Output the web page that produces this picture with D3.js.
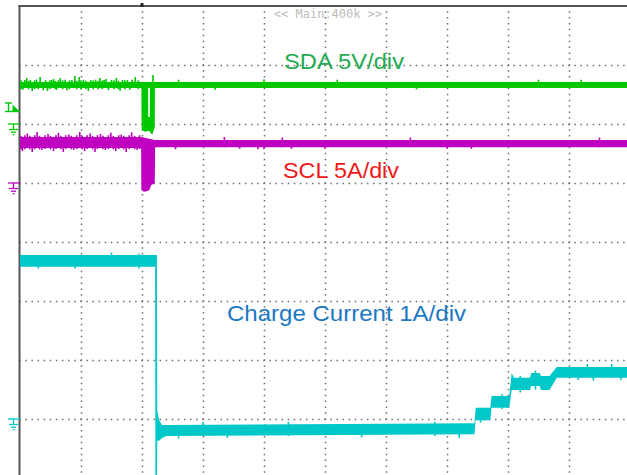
<!DOCTYPE html>
<html>
<head>
<meta charset="utf8">
<title>SDA / SCL / charge current</title>
<style>
body { margin:0; background:white; }
svg { display:block; }
</style>
<script src="https://d3js.org/d3.v7.min.js"></script>
</head>
<body>
<div id="chart"></div>
<script>
var width = 627;
var height = 475;

// scope screen divisions
var timeDivs = [0, 1, 2, 3, 4, 5, 6, 7, 8, 9, 10];
var levelDivs = [-4, -3, -2, -1, 0, 1, 2, 3, 4];

// channels: ground offset (div) and units per div
var chNames = ["SDA", "SCL", "Charge Current"];
var chGround = [2, 1, -3];
var chPerDiv = [5, 5, 1];
var chLabels = ["SDA 5V/div", "SCL 5A/div", "Charge Current 1A/div"];
var timebaseLabel = "<< Main:400k >>";
var triggerTime = 2;

// traces as envelopes: [time (div), low, high]
var sdaTrace = [[0, 3.05, 3.56], [10, 3.05, 3.56]];
var sdaDip = [[1.99, 3.05, 3.05], [1.995, -0.5, 3.05], [2.05, -0.65, 3.05], [2.1, -0.6, 3.05],
              [2.102, -0.6, 0.6], [2.128, -0.6, 0.6], [2.13, -0.7, 3.05], [2.17, -0.9, 3.05],
              [2.2, -0.4, 3.05], [2.21, -0.3, 3.05], [2.212, 3.05, 3.05]];
var sdaSpikes = [[0.02, 2.95, 3.7], [0.05, 2.9, 3.56], [0.08, 3.05, 3.72], [0.11, 3.05, 3.9], [0.14, 2.95, 3.66],
                 [0.17, 3.05, 3.74], [0.2, 2.8, 3.56], [0.24, 2.95, 3.7], [0.27, 3.05, 3.76], [0.3, 2.95, 3.56],
                 [0.33, 3.05, 3.98], [0.38, 2.85, 3.56], [0.42, 3.05, 3.72], [0.45, 2.8, 3.56], [0.49, 2.95, 3.7],
                 [0.52, 3.05, 3.74], [0.55, 3.05, 3.81], [0.58, 2.95, 3.66], [0.6, 2.9, 3.56], [0.63, 3.05, 3.72],
                 [0.66, 3.05, 3.9], [0.7, 2.95, 3.7], [0.74, 3.05, 3.76], [0.77, 2.85, 3.56], [0.81, 2.95, 3.7],
                 [0.85, 3.05, 3.72], [0.9, 3.05, 4.07], [0.93, 2.95, 3.66], [0.97, 3.05, 3.98], [1.0, 2.92, 3.7],
                 [1.04, 3.05, 3.74], [1.08, 2.95, 3.66], [1.12, 2.8, 3.56], [1.16, 3.05, 3.72], [1.2, 2.95, 3.7],
                 [1.24, 3.05, 3.76], [1.28, 2.92, 3.66], [1.31, 3.05, 3.9], [1.35, 2.95, 3.7], [1.38, 3.05, 3.72],
                 [1.41, 3.05, 3.81], [1.45, 2.88, 3.56], [1.5, 3.05, 3.74], [1.54, 2.95, 3.7], [1.58, 3.05, 3.9],
                 [1.61, 2.95, 3.66], [1.64, 2.8, 3.56], [1.68, 3.05, 3.74], [1.72, 2.95, 3.7], [1.76, 3.05, 3.72],
                 [1.8, 2.9, 3.56], [1.84, 3.05, 3.76], [1.89, 3.05, 3.98], [1.94, 2.95, 3.7],
                 [2.18, 3.05, 4.15], [2.6, 3.05, 3.75], [3.2, 2.9, 3.56], [4.0, 3.05, 3.8], [5.2, 3.05, 3.75],
                 [6.5, 2.95, 3.56], [8.5, 3.05, 3.75], [9.2, 3.05, 3.75]];

var sclTrace = [[0, 2.97, 3.9], [1.99, 2.97, 3.9], [2.21, 3.03, 3.64], [10, 3.03, 3.64]];
var sclDip = [[1.985, 3.05, 3.05], [1.99, -0.6, 3.05], [2.03, -0.75, 3.05], [2.08, -0.7, 3.05],
              [2.12, -0.6, 3.05], [2.15, -0.2, 3.05], [2.21, 0.0, 3.05], [2.215, 3.05, 3.05]];
var sclSpikes = [[0.02, 2.85, 4.0], [0.04, 2.7, 3.9], [0.08, 2.85, 4.05], [0.12, 2.97, 4.2], [0.16, 2.85, 4.0],
                 [0.2, 2.63, 3.9], [0.24, 2.85, 4.05], [0.28, 2.97, 4.32], [0.32, 2.85, 4.0], [0.36, 2.8, 3.9],
                 [0.41, 2.88, 4.05], [0.46, 2.97, 4.15], [0.5, 2.85, 4.0], [0.55, 2.7, 3.9], [0.59, 2.88, 4.05],
                 [0.63, 2.97, 4.25], [0.67, 2.85, 4.0], [0.71, 2.63, 3.9], [0.75, 2.88, 4.05], [0.8, 2.97, 4.1],
                 [0.84, 2.85, 4.0], [0.88, 2.8, 3.9], [0.93, 2.88, 4.05], [0.98, 2.97, 4.32], [1.02, 2.85, 4.0],
                 [1.06, 2.7, 3.9], [1.1, 2.88, 4.05], [1.15, 2.97, 4.2], [1.19, 2.85, 4.0], [1.23, 2.63, 3.9],
                 [1.27, 2.88, 4.05], [1.32, 2.97, 4.15], [1.36, 2.85, 4.0], [1.4, 2.8, 3.9], [1.45, 2.88, 4.05],
                 [1.49, 2.97, 4.25], [1.53, 2.85, 4.0], [1.57, 2.7, 3.9], [1.62, 2.88, 4.05], [1.66, 2.97, 4.1],
                 [1.7, 2.85, 4.0], [1.74, 2.63, 3.9], [1.79, 2.88, 4.05], [1.83, 2.97, 4.3], [1.88, 2.85, 4.0],
                 [1.92, 2.8, 3.9], [1.96, 2.88, 4.05],
                 [2.55, 2.85, 3.64], [3.35, 3.03, 3.9], [3.6, 2.9, 3.64], [3.9, 2.85, 3.64], [4.0, 2.85, 3.64],
                 [4.3, 3.03, 3.85], [4.45, 2.9, 3.64], [5.0, 2.9, 3.64], [6.4, 3.03, 3.85], [7.0, 2.9, 3.64],
                 [7.4, 2.9, 3.64], [9.5, 3.03, 3.85]];

var currentTrace = [[0, 2.58, 2.78], [2.215, 2.58, 2.78], [2.22, -1.2, 2.78], [2.245, -1.2, 2.78],
                    [2.25, -0.37, 0.14], [2.28, -0.37, -0.02], [2.33, -0.32, -0.1], [2.4, -0.29, -0.1],
                    [7.45, -0.26, -0.07], [7.47, -0.02, 0.19], [7.71, -0.02, 0.19], [7.73, 0.19, 0.39],
                    [8.02, 0.19, 0.39], [8.06, 0.49, 0.78], [8.1, 0.49, 0.7], [8.36, 0.49, 0.7],
                    [8.38, 0.56, 0.78], [8.52, 0.56, 0.78], [8.54, 0.49, 0.73], [8.68, 0.49, 0.73],
                    [8.8, 0.7, 0.88], [10, 0.7, 0.88]];
var currentSpikes = [[0.3, 2.55, 2.78], [0.9, 2.55, 2.78], [1.5, 2.58, 2.82], [1.95, 2.55, 2.8],
                     [2.6, -0.33, -0.1], [3.0, -0.29, -0.05], [3.4, -0.32, -0.1], [4.4, -0.29, -0.05],
                     [5.6, -0.31, -0.1], [6.8, -0.29, -0.05], [7.2, -0.32, -0.1], [7.55, -0.06, 0.19],
                     [7.9, 0.17, 0.42], [8.2, 0.45, 0.73], [8.45, 0.5, 0.82], [9.15, 0.66, 0.88],
                     [9.3, 0.7, 0.93], [9.4, 0.65, 0.88], [9.7, 0.7, 0.93], [9.85, 0.66, 0.88]];

var traceColors = ["#00c800", "#c000c0", "#00c8c8"];
var labelColors = ["#1eac50", "#f01818", "#1b78c2"];

var x = d3.scaleLinear().domain([0, 10]).range([20, 630]);
var y = d3.scaleLinear().domain([4, -4]).range([6, 478]);

// channel value -> screen y
function chY(ch, v) { return y(chGround[ch] + v / chPerDiv[ch]); }

var svg = d3.select("#chart").append("svg")
    .attr("width", width)
    .attr("height", height);

svg.append("rect").attr("width", width).attr("height", height).attr("fill", "white");

// dotted grid
svg.selectAll("line.hgrid")
  .data(levelDivs.filter(function(d){ return d < 4; }))
  .enter().append("line")
    .attr("class", "hgrid")
    .attr("x1", x(0) - 0.75).attr("x2", x(10))
    .attr("y1", function(d){ return Math.round(y(d)) + 0.5; })
    .attr("y2", function(d){ return Math.round(y(d)) + 0.5; })
    .attr("stroke", "#6e6e6e")
    .attr("stroke-width", 1.5)
    .attr("stroke-dasharray", "1.5,4.6");

svg.selectAll("line.vgrid")
  .data(timeDivs.filter(function(d){ return d > 0 && d < 10; }))
  .enter().append("line")
    .attr("class", "vgrid")
    .attr("x1", function(d){ return Math.round(x(d)) + 0.5; })
    .attr("x2", function(d){ return Math.round(x(d)) + 0.5; })
    .attr("y1", y(4) - 0.75).attr("y2", y(-4))
    .attr("stroke", "#6e6e6e")
    .attr("stroke-width", 1.5)
    .attr("stroke-dasharray", "1.5,4.4");

// frame (left and top)
svg.append("line").attr("x1", x(0) - 0.5).attr("x2", x(0) - 0.5).attr("y1", y(4) - 1).attr("y2", height)
  .attr("stroke", "#555").attr("stroke-width", 2);
svg.append("line").attr("x1", x(0) - 1.5).attr("x2", width).attr("y1", y(4)).attr("y2", y(4))
  .attr("stroke", "#555").attr("stroke-width", 2);

// trigger position marker
svg.append("rect").attr("x", x(triggerTime) - 1.5).attr("y", 3).attr("width", 3).attr("height", 4).attr("fill", "#222");

// timebase text
svg.append("text")
  .attr("x", 328).attr("y", 18)
  .attr("text-anchor", "middle")
  .attr("font-family", "DejaVu Sans Mono, monospace")
  .attr("font-size", 12)
  .attr("fill", "#bdbdbd")
  .text(timebaseLabel);

// traces
function drawTrace(ch, env, spikes) {
  var area = d3.area()
    .x(function(d){ return x(d[0]); })
    .y0(function(d){ return chY(ch, d[1]); })
    .y1(function(d){ return chY(ch, d[2]); });
  var g = svg.append("g").attr("class", "trace-" + ch);
  g.append("path").datum(env).attr("d", area).attr("fill", traceColors[ch]);
  g.selectAll("line").data(spikes).enter().append("line")
    .attr("x1", function(d){ return x(d[0]); })
    .attr("x2", function(d){ return x(d[0]); })
    .attr("y1", function(d){ return chY(ch, d[1]); })
    .attr("y2", function(d){ return chY(ch, d[2]); })
    .attr("stroke", traceColors[ch])
    .attr("stroke-width", 1.6);
  return g;
}

drawTrace(0, sdaTrace, sdaSpikes);
drawTrace(0, sdaDip, []);
drawTrace(1, sclTrace, sclSpikes);
drawTrace(1, sclDip, []);
drawTrace(2, currentTrace, currentSpikes);

// left-side channel markers
function groundMark(ch) {
  var g0 = y(chGround[ch]);
  var c = traceColors[ch];
  var m = svg.append("g").attr("stroke", c).attr("stroke-width", 1.3).attr("fill", "none");
  m.append("line").attr("x1", 8).attr("x2", 20).attr("y1", g0).attr("y2", g0);
  m.append("line").attr("x1", 13.5).attr("x2", 13.5).attr("y1", g0).attr("y2", g0 + 5);
  m.append("line").attr("x1", 9).attr("x2", 18).attr("y1", g0 + 5.5).attr("y2", g0 + 5.5);
  m.append("line").attr("x1", 11).attr("x2", 16).attr("y1", g0 + 8.2).attr("y2", g0 + 8.2);
  m.append("line").attr("x1", 12.7).attr("x2", 14.5).attr("y1", g0 + 10.6).attr("y2", g0 + 10.6);
}
for (var i = 0; i < 3; i++) groundMark(i);

// trigger level marker (SDA)
var tm = svg.append("g").attr("stroke", traceColors[0]).attr("stroke-width", 1.4);
tm.append("line").attr("x1", 5).attr("x2", 12).attr("y1", 103).attr("y2", 103);
tm.append("line").attr("x1", 8.5).attr("x2", 8.5).attr("y1", 103).attr("y2", 111);
tm.append("line").attr("x1", 5).attr("x2", 20).attr("y1", 111.5).attr("y2", 111.5);
svg.append("path").attr("d", "M12.5,104.5 L12.5,112 L20,112 Z").attr("fill", traceColors[0]);

// channel labels
var labelPos = [[284, 69, 120], [283, 178, 116], [227, 321, 239]];
svg.selectAll("text.chlabel")
  .data(chLabels)
  .enter().append("text")
    .attr("class", "chlabel")
    .attr("x", function(d, i){ return labelPos[i][0]; })
    .attr("y", function(d, i){ return labelPos[i][1]; })
    .attr("textLength", function(d, i){ return labelPos[i][2]; })
    .attr("lengthAdjust", "spacingAndGlyphs")
    .attr("font-family", "Liberation Sans, Arial, sans-serif")
    .attr("font-size", 22)
    .attr("fill", function(d, i){ return labelColors[i]; })
    .text(function(d){ return d; });
</script>
</body>
</html>
